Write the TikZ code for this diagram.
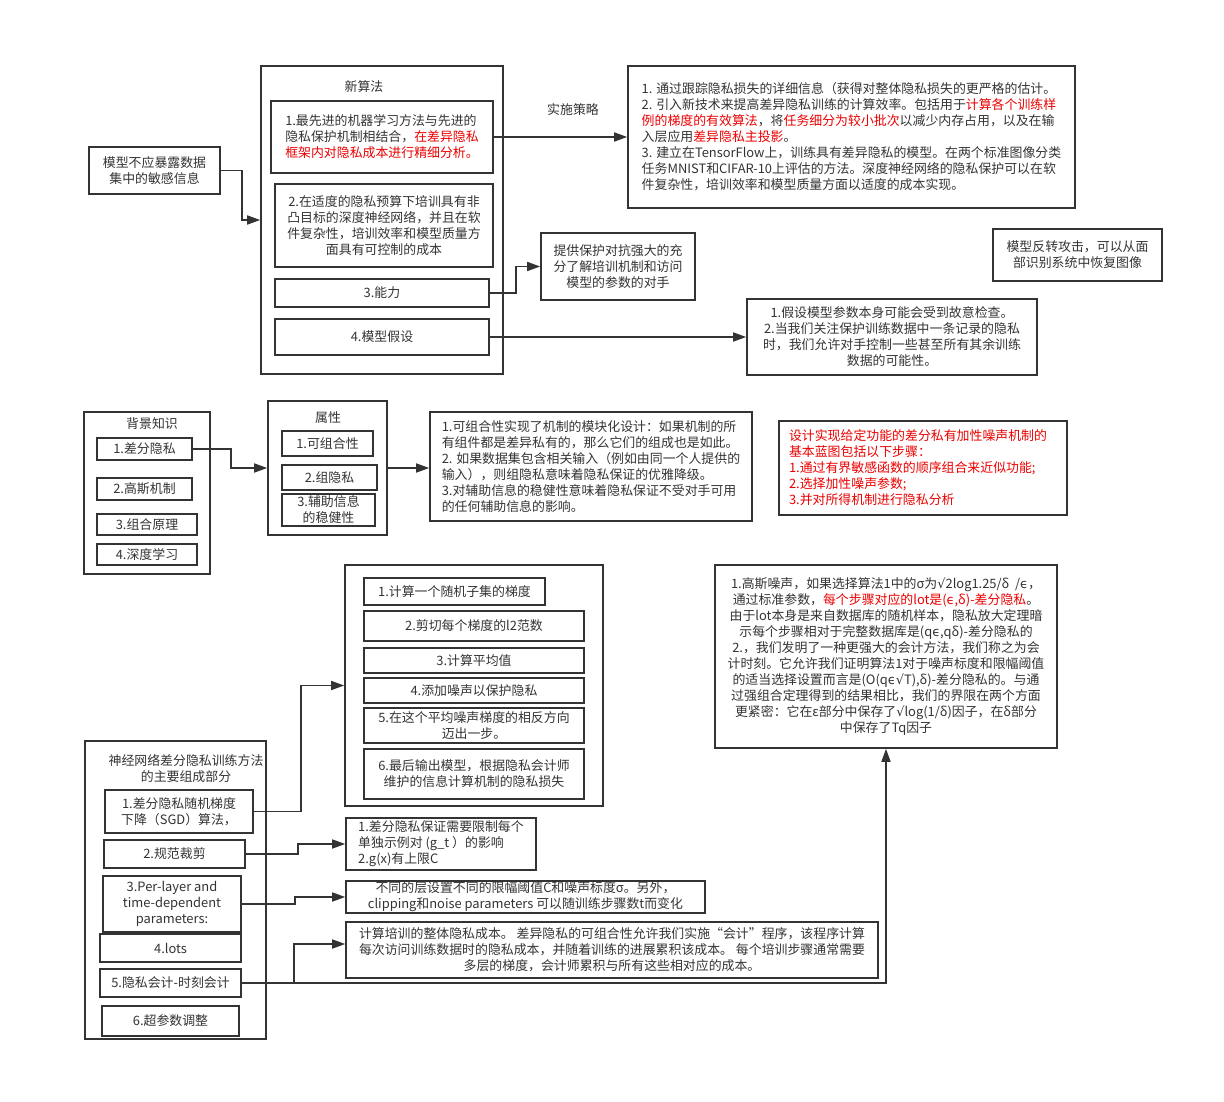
\documentclass[tikz,border=0pt]{standalone}
\usepackage{fontspec}
\setmainfont{Noto Sans CJK SC}
\newfontfamily\greekf{DejaVu Sans}
\usetikzlibrary{arrows.meta}
\definecolor{linegray}{RGB}{51,51,51}
\definecolor{hlred}{RGB}{235,0,0}
\newcommand{\hl}[1]{\textcolor{hlred}{#1}}
\newcommand{\eps}{{\greekf ϵ}}
\newcommand{\rt}{{\greekf √}}

\begin{document}
\begin{tikzpicture}[x=1pt, y=-1pt,
    box/.style={draw=linegray, line width=1.6pt, text=linegray, align=center, inner sep=2pt, font=\fontsize{12.9}{16}\selectfont},
    heading/.style={text=linegray, align=center, font=\fontsize{12.9}{16}\selectfont},
    arr/.style={draw=linegray, line width=1.6pt, -{Triangle[length=13pt,width=9pt]}}]
\useasboundingbox (0,0) rectangle (1224,1102);

    % new algorithm
    \node[box, minimum width=131pt, minimum height=47pt] (sens) at (154.5,170.5) {模型不应暴露数据\\集中的敏感信息};
    \node[box, minimum width=242pt, minimum height=308pt] (newalgo) at (382,220) {};
    \node[heading] (newalgo-title) at (364,87) {新算法};
    \node[box, align=left, minimum width=222pt, minimum height=72pt] (algoA) at (382,137) {1.最先进的机器学习方法与先进的\\隐私保护机制相结合，\hl{在差异隐私}\\\hl{框架内对隐私成本进行精细分析。}};
    \node[box, minimum width=218pt, minimum height=83pt] (algoB) at (384,225.5) {2.在适度的隐私预算下培训具有非\\凸目标的深度神经网络，并且在软\\件复杂性，培训效率和模型质量方\\面具有可控制的成本};
    \node[box, minimum width=214pt, minimum height=28pt] (algoC) at (382,293) {3.能力};
    \node[box, minimum width=214pt, minimum height=36pt] (algoD) at (382,337) {4.模型假设};

    \node[heading] (strategy-label) at (573,110) {实施策略};
    \node[box, align=left, minimum width=447pt, minimum height=142pt] (strategy) at (851.5,137) {1. 通过跟踪隐私损失的详细信息（获得对整体隐私损失的更严格的估计。\\2. 引入新技术来提高差异隐私训练的计算效率。包括用于\hl{计算各个训练样}\\\hl{例的梯度的有效算法}，将\hl{任务细分为较小批次}以减少内存占用，以及在输\\入层应用\hl{差异隐私主投影}。\\3. 建立在TensorFlow上，训练具有差异隐私的模型。在两个标准图像分类\\任务MNIST和CIFAR-10上评估的方法。深度神经网络的隐私保护可以在软\\件复杂性，培训效率和模型质量方面以适度的成本实现。};
    \node[box, minimum width=154pt, minimum height=67pt] (adversary) at (618,266.5) {提供保护对抗强大的充\\分了解培训机制和访问\\模型的参数的对手};
    \node[box, minimum width=169pt, minimum height=52pt] (inversion) at (1077.5,255) {模型反转攻击，可以从面\\部识别系统中恢复图像};
    \node[box, minimum width=290pt, minimum height=76pt] (assume) at (892,337) {1.假设模型参数本身可能会受到故意检查。\\2.当我们关注保护训练数据中一条记录的隐私\\时，我们允许对手控制一些甚至所有其余训练\\数据的可能性。};

    \draw[arr] (sens.east) -- ++(21,0) |- (newalgo.west);
    \draw[arr] (algoA.east) -- (strategy.west);
    \draw[arr] (algoC.east) -- ++(26,0) |- (adversary.west);
    \draw[arr] (algoD.east) -- (assume.west);

    % background and properties
    \node[box, minimum width=126pt, minimum height=162pt] (bg) at (147,493) {};
    \node[heading] (bg-title) at (152,424) {背景知识};
    \node[box, minimum width=95pt, minimum height=22pt] (bgA) at (144.5,449) {1.差分隐私};
    \node[box, minimum width=95pt, minimum height=22pt] (bgB) at (144.5,489) {2.高斯机制};
    \node[box, minimum width=100pt, minimum height=21pt] (bgC) at (147,524.5) {3.组合原理};
    \node[box, minimum width=100pt, minimum height=21pt] (bgD) at (147,554.5) {4.深度学习};

    \node[box, minimum width=119pt, minimum height=134pt] (prop) at (327.5,468) {};
    \node[heading] (prop-title) at (328,418) {属性};
    \node[box, minimum width=91pt, minimum height=25pt] (propA) at (327.5,443.5) {1.可组合性};
    \node[box, minimum width=95pt, minimum height=25pt] (propB) at (329.5,477.5) {2.组隐私};
    \node[box, minimum width=93pt, minimum height=32pt, inner sep=0pt] (propC) at (328.5,510) {3.辅助信息\\的稳健性};
    \node[box, align=left, minimum width=322pt, minimum height=109pt] (compose) at (591,466.5) {1.可组合性实现了机制的模块化设计：如果机制的所\\有组件都是差异私有的，那么它们的组成也是如此。\\2. 如果数据集包含相关输入（例如由同一个人提供的\\输入），则组隐私意味着隐私保证的优雅降级。\\3.对辅助信息的稳健性意味着隐私保证不受对手可用\\的任何辅助信息的影响。};
    \node[box, align=left, text=hlred, text width=268pt, inner xsep=10pt, minimum height=94pt] (blueprint) at (923,468) {设计实现给定功能的差分私有加性噪声机制的\\基本蓝图包括以下步骤：\\1.通过有界敏感函数的顺序组合来近似功能;\\2.选择加性噪声参数;\\3.并对所得机制进行隐私分析};

    \draw[arr] (bgA.east) -- ++(38,0) |- (prop.west);
    \draw[arr] (prop.east) -- (prop.east -| compose.west);

    % training method
    \node[box, minimum width=258pt, minimum height=241pt] (sgd) at (474,685.5) {};
    \node[box, minimum width=181pt, minimum height=27pt] (sgdA) at (454.5,591.5) {1.计算一个随机子集的梯度};
    \node[box, minimum width=220pt, minimum height=30pt] (sgdB) at (474,626) {2.剪切每个梯度的l2范数};
    \node[box, minimum width=220pt, minimum height=25pt] (sgdC) at (474,660.5) {3.计算平均值};
    \node[box, minimum width=220pt, minimum height=25pt] (sgdD) at (474,690.5) {4.添加噪声以保护隐私};
    \node[box, minimum width=220pt, minimum height=35pt, inner sep=0pt] (sgdE) at (474,725.5) {5.在这个平均噪声梯度的相反方向\\迈出一步。};
    \node[box, minimum width=220pt, minimum height=50pt] (sgdF) at (474,774) {6.最后输出模型，根据隐私会计师\\维护的信息计算机制的隐私损失};

    \node[box, minimum width=342pt, minimum height=183pt] (gauss) at (886,656.5) {1.高斯噪声，如果选择算法1中的σ为\rt2log1.25/δ \ /\eps，\\通过标准参数，\hl{每个步骤对应的lot是(\eps,δ)-差分隐私}。\\由于lot本身是来自数据库的随机样本，隐私放大定理暗\\示每个步骤相对于完整数据库是(q\eps,qδ)-差分隐私的\\2.，我们发明了一种更强大的会计方法，我们称之为会\\计时刻。它允许我们证明算法1对于噪声标度和限幅阈值\\的适当选择设置而言是(O(q\eps\rt T),δ)-差分隐私的。与通\\过强组合定理得到的结果相比，我们的界限在两个方面\\更紧密：它在ε部分中保存了\rt log(1/δ)因子，在δ部分\\中保存了Tq因子};

    \node[box, minimum width=181pt, minimum height=298pt] (nn) at (175.5,890) {};
    \node[heading] (nn-title) at (186,769) {神经网络差分隐私训练方法\\的主要组成部分};
    \node[box, minimum width=148pt, minimum height=43pt] (nnA) at (179,811.5) {1.差分隐私随机梯度\\下降（SGD）算法，};
    \node[box, minimum width=141pt, minimum height=28pt] (nnB) at (174.5,854) {2.规范裁剪};
    \node[box, minimum width=138pt, minimum height=56pt] (nnC) at (172,904) {3.Per-layer and\\time-dependent\\parameters:};
    \node[box, minimum width=141pt, minimum height=28pt] (nnD) at (170.5,948) {4.lots};
    \node[box, minimum width=141pt, minimum height=28pt] (nnE) at (170.5,983) {5.隐私会计-时刻会计};
    \node[box, minimum width=137pt, minimum height=30pt] (nnF) at (170.5,1021) {6.超参数调整};

    \node[box, align=left, minimum width=190pt, minimum height=52pt] (clip) at (441,844) {1.差分隐私保证需要限制每个\\单独示例对 (g\_t ）的影响\\2.g(x)有上限C};
    \node[box, minimum width=359pt, minimum height=32pt, inner sep=0pt] (layer) at (525.5,897) {不同的层设置不同的限幅阈值C和噪声标度σ。另外，\\clipping和noise parameters 可以随训练步骤数t而变化};
    \node[box, minimum width=532pt, minimum height=56pt] (account) at (612,950) {计算培训的整体隐私成本。 差异隐私的可组合性允许我们实施“会计”程序，该程序计算\\每次访问训练数据时的隐私成本，并随着训练的进展累积该成本。 每个培训步骤通常需要\\多层的梯度，会计师累积与所有这些相对应的成本。};

    \draw[arr] (nnA.east) -- ++(47,0) |- (sgd.west);
    \draw[arr] (nnB.east) -- ++(52,0) |- (clip.west);
    \draw[arr] (nnC.east) -- ++(53,0) |- (layer.west);
    \draw[arr] (nnE.east) -- ++(52,0) |- ([yshift=6pt]account.west);
    \draw[arr] (nnE.east) -| (gauss.south);
\end{tikzpicture}
\end{document}
